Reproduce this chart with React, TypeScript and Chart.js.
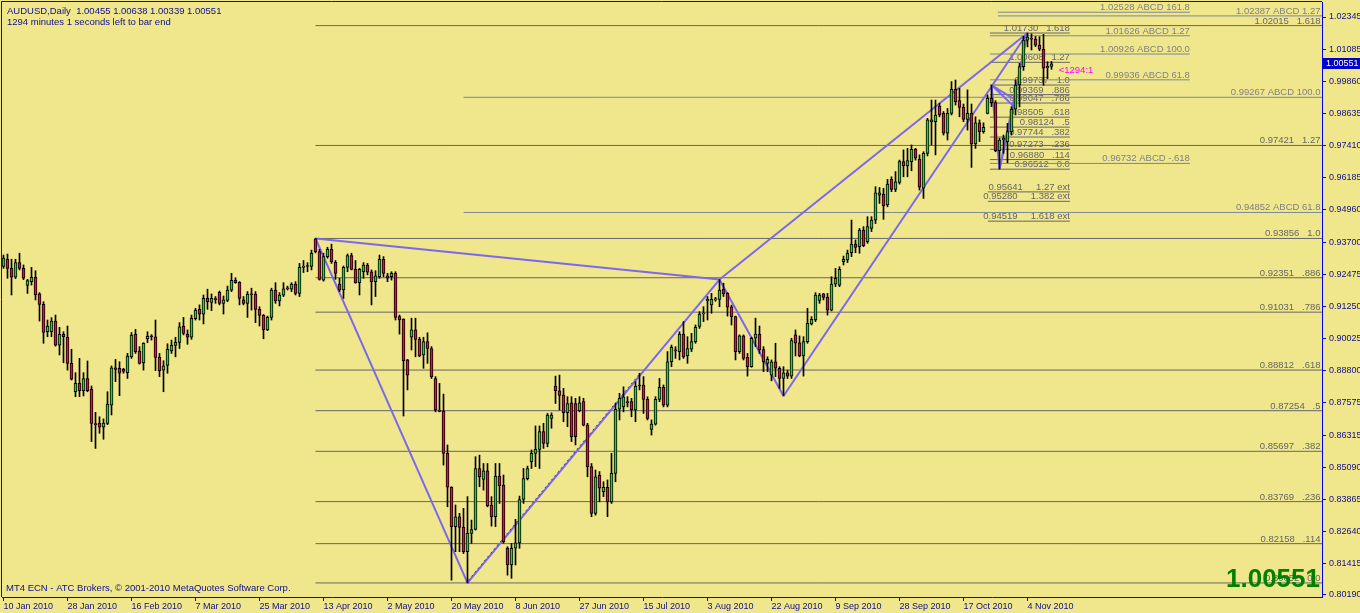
import React, { useEffect, useRef } from "react";
import { Chart, registerables } from "chart.js";

Chart.register(...registerables);

// ---------- axis labels ----------
const dateLabels = [
  "10 Jan 2010", "28 Jan 2010", "16 Feb 2010", "7 Mar 2010", "25 Mar 2010", "13 Apr 2010",
  "2 May 2010", "20 May 2010", "8 Jun 2010", "27 Jun 2010", "15 Jul 2010", "3 Aug 2010",
  "22 Aug 2010", "9 Sep 2010", "28 Sep 2010", "17 Oct 2010", "4 Nov 2010",
];
const dateTickBars = [0, 16, 32, 48, 64, 80, 96, 112, 128, 144, 160, 176, 192, 208, 224, 240, 256];
const priceTicks = [
  1.02345, 1.01085, 0.9986, 0.98635, 0.9741, 0.96185, 0.9496, 0.937, 0.92475, 0.9125,
  0.90025, 0.888, 0.87575, 0.86315, 0.8509, 0.83865, 0.8264, 0.81415, 0.8019,
];

// ---------- daily OHLC (AUDUSD) ----------
const opens = [
  0.9278, 0.9306, 0.9271, 0.9237, 0.9293, 0.9271, 0.9206, 0.922, 0.9237, 0.9173,
  0.9133, 0.9028, 0.9028, 0.9069, 0.8977, 0.9018, 0.9007, 0.8907, 0.8798, 0.883,
  0.8802, 0.8849, 0.8807, 0.8674, 0.8678, 0.8662, 0.8677, 0.8747, 0.889, 0.8888,
  0.8884, 0.8871, 0.8932, 0.9018, 0.8954, 0.8909, 0.9001, 0.9011, 0.9009, 0.893,
  0.8881, 0.8899, 0.8955, 0.8976, 0.8987, 0.905, 0.9018, 0.9007, 0.9078, 0.9114,
  0.9095, 0.9156, 0.914, 0.9154, 0.9179, 0.9137, 0.9148, 0.9187, 0.9226, 0.9217,
  0.915, 0.9137, 0.9173, 0.9172, 0.9114, 0.9091, 0.9035, 0.9083, 0.9188, 0.9146,
  0.9168, 0.9196, 0.9191, 0.9211, 0.9175, 0.9275, 0.9278, 0.9278, 0.9384, 0.9335,
  0.9226, 0.9316, 0.9344, 0.9294, 0.9211, 0.9188, 0.9275, 0.932, 0.9267, 0.9216,
  0.9258, 0.9284, 0.9258, 0.922, 0.9239, 0.9306, 0.9242, 0.9239, 0.9252, 0.9086,
  0.9076, 0.892, 0.9007, 0.9035, 0.8999, 0.8939, 0.899, 0.8964, 0.8849, 0.8728,
  0.8724, 0.8562, 0.8432, 0.8281, 0.8319, 0.8278, 0.8185, 0.8255, 0.827, 0.8504,
  0.8462, 0.8495, 0.8364, 0.8319, 0.8475, 0.844, 0.8198, 0.8134, 0.8198, 0.8219,
  0.8385, 0.8465, 0.853, 0.8562, 0.8577, 0.8645, 0.86, 0.8696, 0.882, 0.8802,
  0.8785, 0.8718, 0.8756, 0.8753, 0.8725, 0.876, 0.867, 0.8511, 0.8332, 0.8478,
  0.8415, 0.8432, 0.8376, 0.8485, 0.8731, 0.874, 0.876, 0.876, 0.8728, 0.8822,
  0.8824, 0.8769, 0.8654, 0.8674, 0.8769, 0.8815, 0.8747, 0.8913, 0.8958, 0.8952,
  0.9019, 0.8935, 0.8961, 0.899, 0.9048, 0.9096, 0.9147, 0.9131, 0.915, 0.9152,
  0.9191, 0.9175, 0.9124, 0.9086, 0.8952, 0.9012, 0.893, 0.8894, 0.9003, 0.9019,
  0.896, 0.8907, 0.8862, 0.8913, 0.8888, 0.8849, 0.8871, 0.8858, 0.9016, 0.8986,
  0.8935, 0.899, 0.9058, 0.9073, 0.9148, 0.9173, 0.916, 0.9111, 0.9211, 0.9207,
  0.9297, 0.9303, 0.9331, 0.9364, 0.9354, 0.9418, 0.9373, 0.9424, 0.9456, 0.9552,
  0.9556, 0.9514, 0.9612, 0.9574, 0.96, 0.968, 0.9664, 0.968, 0.9727, 0.9689,
  0.9578, 0.9712, 0.9833, 0.9833, 0.9893, 0.9865, 0.9789, 0.9865, 0.9957, 0.9914,
  0.9888, 0.9842, 0.9865, 0.9748, 0.9829, 0.9795, 0.9865, 0.9923, 0.9906, 0.9722,
  0.9763, 0.9757, 0.9795, 0.9881, 0.9974, 1.0044, 1.0146, 1.0152, 1.015, 1.0127,
  1.0111, 1.004, 1.00455,
];
const highs = [
  0.9322, 0.9326, 0.9306, 0.9306, 0.9329, 0.9284, 0.9229, 0.9275, 0.9262, 0.9178,
  0.9143, 0.9073, 0.9082, 0.9092, 0.9045, 0.9028, 0.905, 0.8961, 0.8871, 0.8926,
  0.8871, 0.8916, 0.882, 0.8719, 0.8702, 0.8694, 0.8798, 0.8897, 0.8922, 0.8913,
  0.8888, 0.8945, 0.9025, 0.9037, 0.8971, 0.8986, 0.9028, 0.9017, 0.9073, 0.8945,
  0.8917, 0.8982, 0.8996, 0.9007, 0.9063, 0.9083, 0.9035, 0.9092, 0.9118, 0.9131,
  0.9169, 0.9191, 0.9173, 0.9163, 0.9184, 0.9165, 0.9203, 0.9252, 0.9235, 0.922,
  0.9163, 0.9182, 0.9195, 0.9182, 0.9124, 0.9094, 0.9088, 0.9195, 0.9216, 0.9178,
  0.9216, 0.9203, 0.9216, 0.922, 0.929, 0.9301, 0.9293, 0.9341, 0.93856, 0.9344,
  0.9329, 0.9352, 0.9364, 0.9301, 0.9233, 0.928, 0.9326, 0.9329, 0.9301, 0.9271,
  0.9293, 0.929, 0.9265, 0.9262, 0.9322, 0.9316, 0.9252, 0.9258, 0.9258, 0.9092,
  0.9078, 0.8922, 0.908, 0.908, 0.9007, 0.9007, 0.9024, 0.8971, 0.8856, 0.883,
  0.8789, 0.8594, 0.8434, 0.8364, 0.8332, 0.8351, 0.8396, 0.8306, 0.8549, 0.8555,
  0.8523, 0.8523, 0.8396, 0.8523, 0.8523, 0.8479, 0.8204, 0.8217, 0.8309, 0.8398,
  0.8504, 0.8513, 0.8575, 0.8667, 0.8667, 0.8677, 0.8715, 0.8717, 0.8858, 0.8862,
  0.8811, 0.8779, 0.8779, 0.8773, 0.8779, 0.8773, 0.8677, 0.8523, 0.8498, 0.8492,
  0.8453, 0.846, 0.8562, 0.8753, 0.8792, 0.8817, 0.8779, 0.8773, 0.8837, 0.8869,
  0.8856, 0.8779, 0.869, 0.8779, 0.8849, 0.8824, 0.8952, 0.8977, 0.8971, 0.9028,
  0.9067, 0.9009, 0.9022, 0.9054, 0.9105, 0.9124, 0.9163, 0.9175, 0.916, 0.9228,
  0.9214, 0.9178, 0.913, 0.9088, 0.9016, 0.9016, 0.8945, 0.9007, 0.908, 0.905,
  0.8971, 0.8932, 0.892, 0.8984, 0.8894, 0.8894, 0.8881, 0.9003, 0.9035, 0.9012,
  0.9009, 0.9118, 0.9086, 0.9178, 0.9175, 0.9175, 0.9175, 0.9239, 0.9271, 0.9277,
  0.9318, 0.9341, 0.9456, 0.938, 0.9424, 0.9431, 0.9469, 0.9469, 0.9584, 0.9581,
  0.9578, 0.9612, 0.9622, 0.9642, 0.9686, 0.9725, 0.9731, 0.9744, 0.9731, 0.9706,
  0.9718, 0.9846, 0.9916, 0.9916, 0.9904, 0.9872, 0.9884, 0.9987, 0.9993, 0.9961,
  0.9901, 0.9955, 0.9901, 0.9852, 0.984, 0.9829, 0.9936, 0.99737, 0.9914, 0.977,
  0.9782, 0.9827, 0.9891, 0.9993, 1.0057, 1.016, 1.0173, 1.017, 1.016, 1.0159,
  1.0168, 1.0063, 1.00638,
];
const lows = [
  0.9271, 0.9233, 0.9169, 0.9232, 0.9265, 0.9228, 0.9175, 0.9207, 0.915, 0.9069,
  0.8984, 0.9009, 0.9009, 0.8973, 0.8939, 0.8909, 0.8881, 0.8843, 0.8779, 0.8779,
  0.8782, 0.8798, 0.8607, 0.8581, 0.8639, 0.8616, 0.8672, 0.8709, 0.8837, 0.8783,
  0.8869, 0.8849, 0.8926, 0.8945, 0.8904, 0.8881, 0.8986, 0.8996, 0.8879, 0.8856,
  0.8798, 0.8869, 0.8945, 0.8932, 0.8964, 0.9016, 0.898, 0.8999, 0.9073, 0.9073,
  0.9058, 0.9114, 0.9109, 0.9137, 0.9131, 0.9096, 0.9143, 0.9182, 0.9214, 0.9131,
  0.9131, 0.9083, 0.9111, 0.9063, 0.905, 0.9001, 0.9032, 0.9073, 0.9137, 0.9127,
  0.9163, 0.9188, 0.9182, 0.9169, 0.9163, 0.9255, 0.9258, 0.9265, 0.933, 0.9226,
  0.9222, 0.931, 0.929, 0.9229, 0.9182, 0.9156, 0.9258, 0.9265, 0.9214, 0.9169,
  0.9233, 0.9246, 0.9131, 0.9163, 0.9233, 0.9239, 0.922, 0.9226, 0.9073, 0.9019,
  0.8705, 0.8805, 0.8958, 0.8932, 0.8932, 0.8888, 0.8907, 0.8849, 0.8721, 0.8721,
  0.8517, 0.8357, 0.8076, 0.8185, 0.8185, 0.8178, 0.80652, 0.8217, 0.8268, 0.8434,
  0.8421, 0.8357, 0.8283, 0.8281, 0.837, 0.8217, 0.8095, 0.8083, 0.8134, 0.8198,
  0.837, 0.846, 0.8504, 0.8511, 0.8504, 0.8581, 0.8587, 0.8658, 0.8753, 0.8728,
  0.8683, 0.8664, 0.8607, 0.8594, 0.8721, 0.8667, 0.8472, 0.8319, 0.8325, 0.8376,
  0.8396, 0.8319, 0.837, 0.8453, 0.869, 0.8721, 0.874, 0.8702, 0.8683, 0.8805,
  0.8715, 0.869, 0.8632, 0.867, 0.876, 0.874, 0.874, 0.8894, 0.8926, 0.892,
  0.8926, 0.8907, 0.8952, 0.8984, 0.9041, 0.9067, 0.9073, 0.9099, 0.9145, 0.9124,
  0.9163, 0.9088, 0.9054, 0.892, 0.8945, 0.892, 0.8858, 0.8892, 0.8971, 0.8945,
  0.8875, 0.8875, 0.884, 0.8856, 0.8811, 0.8782, 0.8849, 0.8849, 0.8935, 0.8932,
  0.8858, 0.8984, 0.9054, 0.9067, 0.9137, 0.915, 0.9092, 0.9108, 0.9201, 0.9201,
  0.9284, 0.9293, 0.9316, 0.9331, 0.9329, 0.9354, 0.9367, 0.9412, 0.9443, 0.952,
  0.9459, 0.9507, 0.9565, 0.9565, 0.9594, 0.9622, 0.9622, 0.9645, 0.9686, 0.9571,
  0.9539, 0.9702, 0.9744, 0.9706, 0.9852, 0.9782, 0.9763, 0.9859, 0.9897, 0.9852,
  0.9833, 0.9801, 0.9658, 0.9731, 0.9757, 0.9789, 0.9863, 0.9891, 0.9718, 0.96512,
  0.9712, 0.9676, 0.9782, 0.9859, 0.989, 1.003, 1.012, 1.0108, 1.0121, 1.0105,
  0.9973, 0.9999, 1.00339,
];
const closes = [
  0.931, 0.9271, 0.9237, 0.9293, 0.9271, 0.9233, 0.9224, 0.9237, 0.9169, 0.9133,
  0.9025, 0.905, 0.9069, 0.8977, 0.9018, 0.9009, 0.8907, 0.8846, 0.883, 0.8802,
  0.8849, 0.8802, 0.8677, 0.8672, 0.8662, 0.8678, 0.8751, 0.889, 0.8884, 0.8869,
  0.8876, 0.8935, 0.9014, 0.8952, 0.8907, 0.8984, 0.901, 0.9009, 0.893, 0.8879,
  0.8897, 0.8961, 0.8976, 0.8987, 0.9047, 0.9022, 0.9007, 0.9079, 0.9111, 0.9095,
  0.9156, 0.9143, 0.9156, 0.9151, 0.9137, 0.915, 0.9188, 0.9225, 0.9216, 0.9156,
  0.9137, 0.9172, 0.9169, 0.9114, 0.9091, 0.9035, 0.9083, 0.9188, 0.9146, 0.9169,
  0.9193, 0.9192, 0.9211, 0.9175, 0.9275, 0.9278, 0.928, 0.9329, 0.9335, 0.9229,
  0.9316, 0.9344, 0.9297, 0.9252, 0.9188, 0.9275, 0.932, 0.9267, 0.9216, 0.9267,
  0.9284, 0.9256, 0.922, 0.9242, 0.9306, 0.9252, 0.9233, 0.9252, 0.9083, 0.9073,
  0.8917, 0.8862, 0.9035, 0.8999, 0.8935, 0.899, 0.8964, 0.8856, 0.8728, 0.8723,
  0.8562, 0.8432, 0.8281, 0.8319, 0.8278, 0.8185, 0.8255, 0.827, 0.8504, 0.8472,
  0.8495, 0.836, 0.8319, 0.8475, 0.8437, 0.8223, 0.8134, 0.8198, 0.8219, 0.8385,
  0.8465, 0.8504, 0.8562, 0.8577, 0.8645, 0.86, 0.8709, 0.8709, 0.8802, 0.8784,
  0.8718, 0.8753, 0.8626, 0.8626, 0.8756, 0.867, 0.8511, 0.8332, 0.8472, 0.8428,
  0.8432, 0.8376, 0.8485, 0.8731, 0.8773, 0.8779, 0.8756, 0.8728, 0.882, 0.882,
  0.8769, 0.8696, 0.8674, 0.8769, 0.8815, 0.8747, 0.8913, 0.8968, 0.8955, 0.9019,
  0.8932, 0.8964, 0.899, 0.9045, 0.9096, 0.9101, 0.9152, 0.9152, 0.9152, 0.9188,
  0.9173, 0.9122, 0.9086, 0.8952, 0.9012, 0.8926, 0.8894, 0.9003, 0.9019, 0.8958,
  0.8913, 0.8922, 0.8913, 0.8888, 0.8849, 0.8871, 0.8858, 0.8994, 0.8984, 0.8935,
  0.899, 0.906, 0.9076, 0.9169, 0.9169, 0.916, 0.9111, 0.9211, 0.9233, 0.9267,
  0.9306, 0.9329, 0.9364, 0.9351, 0.9418, 0.9358, 0.9431, 0.9456, 0.9561, 0.9561,
  0.951, 0.9594, 0.9574, 0.9603, 0.968, 0.9664, 0.9684, 0.9727, 0.9693, 0.9582,
  0.9712, 0.984, 0.984, 0.9859, 0.9859, 0.9789, 0.9865, 0.9957, 0.991, 0.9888,
  0.9842, 0.9865, 0.9748, 0.9829, 0.9795, 0.9812, 0.9923, 0.9906, 0.9722, 0.9763,
  0.977, 0.9795, 0.9881, 0.9974, 1.0044, 1.0146, 1.0158, 1.015, 1.0127, 1.0111,
  1.0038, 1.0045, 1.00551,
];

// ---------- Fibonacci / ABCD levels ----------
const xaFibLevels = [1.02015, 0.97421, 0.93856, 0.92351, 0.91031, 0.88812, 0.87254, 0.85697, 0.83769, 0.82158, 0.80652];
const xaFibRatios = ["1.618", "1.27", "1.0", ".886", ".786", ".618", ".5", ".382", ".236", ".114", "0.0"];
const bigAbcdLevels = [1.02387, 0.99267, 0.94852];
const bigAbcdRatios = ["1.27", "100.0", "61.8"];
const smallAbcdLevels = [1.02528, 1.01626, 1.00926, 0.99936, 0.96732];
const smallAbcdRatios = ["161.8", "1.27", "100.0", "61.8", "-.618"];
const swingFibLevels = [1.0173, 1.00608, 0.99737, 0.99369, 0.99047, 0.98505, 0.98124, 0.97744, 0.97273, 0.9688, 0.96512];
const swingFibRatios = ["1.618", "1.27", "1.0", ".886", ".786", ".618", ".5", ".382", ".236", ".114", "0.0"];
const extLevels = [0.95641, 0.9528, 0.94519];
const extRatios = ["1.27 ext", "1.382 ext", "1.618 ext"];

// ---------- pattern pivots (bar index, price) ----------
const pivotBars = { X: 78, A: 116, B: 179, C: 195, D: 247, E: 249, F: 256, G1: 253, G2: 253 };
const pivotPrices = { X: 0.93856, A: 0.80652, B: 0.9228, C: 0.8782, D: 0.99737, E: 0.96512, F: 1.0173, G1: 0.99164, G2: 0.98857 };
const zigzagSegments = [
  ["X", "A"], ["X", "B"], ["A", "B"], ["B", "C"], ["C", "F"], ["B", "F"],
  ["D", "E"], ["E", "F"], ["D", "G1"], ["D", "G2"], ["E", "G1"],
];
const dottedBars = [116.2, 159];
const dottedPrices = [0.8075, 0.8866];

// ---------- texts ----------
const headerLine1 = "AUDUSD,Daily  1.00455 1.00638 1.00339 1.00551";
const headerLine2 = "1294 minutes 1 seconds left to bar end";
const footerText = "MT4 ECN - ATC Brokers, \u00A9 2001-2010 MetaQuotes Software Corp.";
const barTimer = "<1294:1";

// ---------- styling ----------
const BG = "#F0E68C";
const FRAME = "#0000FF";
const FG = "#10108A";
const BULL = "#32CD32";
const BEAR = "#DC143C";
const FIB = "#666666";
const ABCD = "#7A8899";
const ZIG = "#7B68EE";
const FONT = '"Liberation Sans", Arial, sans-serif';

const X_MIN = -0.375;
const X_MAX = 329.625;
const Y_MIN = 0.80113;
const Y_MAX = 1.0292;

function levelData(levels: number[], starts: number[] | number, end: number) {
  const pts: any[] = [];
  levels.forEach((v, i) => {
    const s = Array.isArray(starts) ? starts[i] : starts;
    pts.push({ x: s, y: v }, { x: end, y: v }, { x: end, y: null });
  });
  return pts;
}

export default function App() {
  const ref = useRef<HTMLCanvasElement | null>(null);

  useEffect(() => {
    const canvas = ref.current;
    if (!canvas) return;

    const bodyColors = opens.map((o, i) => (closes[i] >= o ? BULL : BEAR));
    const zigData: any[] = [];
    zigzagSegments.forEach(([a, b]) => {
      zigData.push(
        { x: (pivotBars as any)[a], y: (pivotPrices as any)[a] },
        { x: (pivotBars as any)[b], y: (pivotPrices as any)[b] },
        { x: (pivotBars as any)[b], y: null }
      );
    });

    const lineBase = { type: "line", pointRadius: 0, borderWidth: 1, spanGaps: false, tension: 0 };

    const overlay = {
      id: "mt4Overlay",
      beforeDraw(chart: any) {
        const { ctx, width, height } = chart;
        ctx.save();
        ctx.fillStyle = BG;
        ctx.fillRect(0, 0, width, height);
        ctx.restore();
      },
      beforeDatasetsDraw(chart: any) {
        const { ctx } = chart;
        const xs = chart.scales.x;
        const ys = chart.scales.y;
        ctx.save();
        ctx.font = `9.5px ${FONT}`;
        ctx.textAlign = "right";
        ctx.textBaseline = "alphabetic";
        const put = (levels: number[], ratios: string[], endBar: number, sep: string, color: string) => {
          ctx.fillStyle = color;
          levels.forEach((v, i) => {
            ctx.fillText(v.toFixed(5) + sep + ratios[i], xs.getPixelForValue(endBar), Math.round(ys.getPixelForValue(v)) - 2);
          });
        };
        put(xaFibLevels, xaFibRatios, 329.25, "   ", FIB);
        put(bigAbcdLevels, bigAbcdRatios, 329.25, " ABCD ", "#808080");
        put(smallAbcdLevels, smallAbcdRatios, 296.6, " ABCD ", "#808080");
        put(swingFibLevels, swingFibRatios, 266.6, "   ", FIB);
        put(extLevels, extRatios, 266.6, "     ", FIB);
        ctx.restore();
      },
      afterDraw(chart: any) {
        const { ctx, chartArea } = chart;
        const xs = chart.scales.x;
        const ys = chart.scales.y;
        ctx.save();
        // frame
        ctx.strokeStyle = FRAME;
        ctx.lineWidth = 1;
        ctx.beginPath();
        ctx.moveTo(chartArea.left - 0.5, chartArea.bottom);
        ctx.lineTo(chartArea.left - 0.5, chartArea.top - 0.5);
        ctx.lineTo(chartArea.right, chartArea.top - 0.5);
        ctx.stroke();
        // header
        ctx.fillStyle = FG;
        ctx.font = `9.5px ${FONT}`;
        ctx.textAlign = "left";
        ctx.textBaseline = "alphabetic";
        ctx.fillText(headerLine1, 7, 14);
        ctx.fillText(headerLine2, 7, 25);
        ctx.fillText(footerText, 6, 591);
        // bar timer
        const last = closes.length - 1;
        const lastClose = closes[last];
        ctx.fillStyle = "#FF00FF";
        ctx.fillText(barTimer, xs.getPixelForValue(last + 1.8), ys.getPixelForValue(lastClose) + 9);
        // big price
        ctx.fillStyle = "#008000";
        ctx.font = `bold 26px ${FONT}`;
        ctx.textAlign = "right";
        ctx.fillText(lastClose.toFixed(5), chartArea.right - 2, 587);
        // price box on axis
        const py = Math.round(ys.getPixelForValue(lastClose));
        ctx.fillStyle = "#0000C8";
        ctx.fillRect(chartArea.right + 1, py - 6, 38, 11);
        ctx.fillStyle = "#FFFFFF";
        ctx.font = `9px ${FONT}`;
        ctx.textAlign = "left";
        ctx.textBaseline = "middle";
        ctx.fillText(lastClose.toFixed(5), chartArea.right + 4, py);
        ctx.restore();
      },
    };

    const zeroPad = (scale: any) => {
      scale.paddingTop = 0;
      scale.paddingBottom = 0;
      scale.paddingLeft = 0;
      scale.paddingRight = 0;
    };

    const chart = new Chart(canvas, {
      type: "bar",
      data: {
        datasets: [
          {
            ...lineBase,
            order: 7,
            borderColor: FIB,
            data: [
              ...levelData(xaFibLevels, pivotBars.X, X_MAX),
              ...levelData(swingFibLevels, 246.6, 266.6),
              ...levelData(extLevels, 246.1, 266.6),
            ],
          },
          {
            ...lineBase,
            order: 6,
            borderColor: ABCD,
            data: [
              ...levelData(bigAbcdLevels, [248.6, 115, 115], X_MAX),
              ...levelData(smallAbcdLevels, [248.6, 246.6, 246.6, 246.6, 246.6], 296.6),
            ],
          },
          {
            ...lineBase,
            order: 5,
            borderColor: ZIG,
            borderWidth: 2,
            data: zigData,
          },
          {
            ...lineBase,
            order: 4,
            borderColor: "#3C3C96",
            borderDash: [2, 3],
            data: dottedBars.map((b, i) => ({ x: b, y: dottedPrices[i] })),
          },
          {
            type: "bar",
            order: 2,
            grouped: false,
            barThickness: 1,
            backgroundColor: "#000000",
            borderWidth: 0,
            data: highs.map((h, i) => ({ x: i, y: [lows[i], h] })),
          },
          {
            type: "bar",
            order: 1,
            grouped: false,
            barThickness: 3,
            minBarLength: 1,
            backgroundColor: bodyColors,
            borderColor: "#000000",
            borderWidth: 1,
            borderSkipped: false,
            data: opens.map((o, i) => ({ x: i, y: [o, closes[i]] })),
          },
        ] as any,
      },
      options: {
        animation: false,
        responsive: false,
        devicePixelRatio: 1,
        layout: { padding: { left: 2, top: 2, right: 0, bottom: 0 } },
        plugins: { legend: { display: false }, tooltip: { enabled: false } },
        scales: {
          x: {
            type: "linear",
            min: X_MIN,
            max: X_MAX,
            offset: false,
            position: "bottom",
            grid: { display: true, drawOnChartArea: false, drawTicks: true, tickLength: 4, color: FRAME, offset: false },
            border: { display: true, color: FRAME, width: 1 },
            afterBuildTicks: (scale: any) => {
              scale.ticks = dateTickBars.map((v) => ({ value: v }));
            },
            afterFit: (scale: any) => {
              scale.height = 16;
              zeroPad(scale);
            },
            ticks: {
              autoSkip: false,
              maxRotation: 0,
              minRotation: 0,
              align: "start",
              padding: 0,
              color: FG,
              font: { family: "Liberation Sans", size: 9 },
              callback: (_v: any, i: number) => dateLabels[i],
            },
          },
          y: {
            type: "linear",
            position: "right",
            min: Y_MIN,
            max: Y_MAX,
            grid: { display: true, drawOnChartArea: false, drawTicks: true, tickLength: 4, color: FRAME },
            border: { display: true, color: FRAME, width: 1 },
            afterBuildTicks: (scale: any) => {
              scale.ticks = priceTicks.map((v) => ({ value: v }));
            },
            afterFit: (scale: any) => {
              scale.width = 38;
              zeroPad(scale);
            },
            ticks: {
              autoSkip: false,
              padding: 3,
              color: FG,
              font: { family: "Liberation Sans", size: 9 },
              callback: (v: any) => Number(v).toFixed(5),
            },
          },
        },
      } as any,
      plugins: [overlay as any],
    });

    return () => chart.destroy();
  }, []);

  return (
    <div style={{ position: "fixed", left: 0, top: 0, width: 1360, height: 613, background: BG }}>
      <canvas ref={ref} width={1360} height={613} style={{ display: "block", width: 1360, height: 613 }} />
    </div>
  );
}
